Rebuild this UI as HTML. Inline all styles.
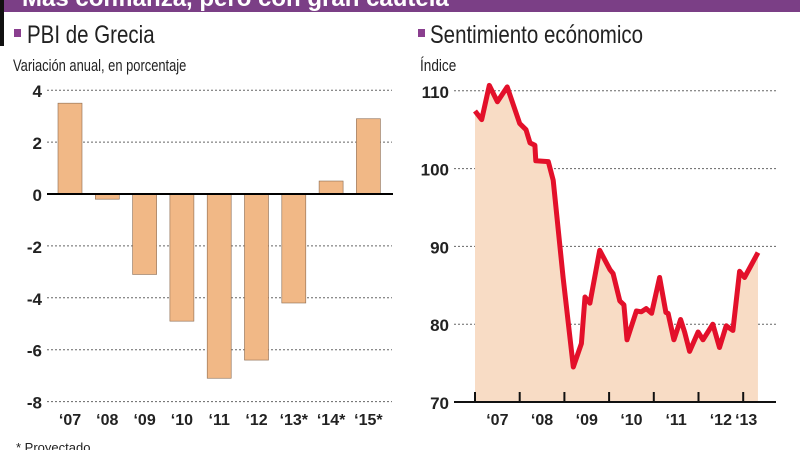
<!DOCTYPE html>
<html><head><meta charset="utf-8"><style>
body{margin:0;width:800px;height:450px;overflow:hidden;background:#fff;font-family:"Liberation Sans",sans-serif}
svg{display:block}
</style></head><body>
<svg width="800" height="450" id="s">
<rect x="0" y="0" width="800" height="12" fill="#7b3f86"/>
<text x="22" y="6" fill="#fff" font-size="24" font-weight="bold">Más confianza, pero con gran cautela</text>
<rect x="0" y="0" width="4" height="46" fill="#111"/>
<rect x="14" y="29" width="7" height="8" fill="#8a3f8f"/>
<text x="0" y="0" font-size="25" fill="#222" transform="translate(27,43) scale(0.82,1)">PBI de Grecia</text>
<text x="0" y="0" font-size="17" fill="#222" transform="translate(13,71) scale(0.76,1)">Variación anual, en porcentaje</text>
<rect x="418" y="29" width="7" height="8" fill="#8a3f8f"/>
<text x="0" y="0" font-size="25" fill="#222" transform="translate(430,43) scale(0.82,1)">Sentimiento ecónomico</text>
<text x="0" y="0" font-size="17" fill="#222" transform="translate(420,71) scale(0.8,1)">Índice</text>
<text x="16" y="452" font-size="13" fill="#222">* Proyectado</text>
<g id="left"></g><g id="right"></g>
</svg>
<script>
const gdpCats=["‘07","‘08","‘09","‘10","‘11","‘12","‘13*","‘14*","‘15*"];
const gdpVals=[3.5,-0.2,-3.1,-4.9,-7.1,-6.4,-4.2,0.5,2.9];
const gdpTicks=[4,2,0,-2,-4,-6,-8];
const sentDates=[2007.0,2007.15,2007.32,2007.5,2007.72,2008.0,2008.14,2008.23,2008.34,2008.36,2008.64,2008.75,2008.97,2009.2,2009.38,2009.46,2009.57,2009.79,2010.02,2010.09,2010.24,2010.33,2010.4,2010.61,2010.72,2010.83,2010.95,2011.13,2011.27,2011.32,2011.45,2011.6,2011.69,2011.8,2011.99,2012.1,2012.32,2012.47,2012.62,2012.77,2012.92,2013.03,2013.33];
const sentVals=[107.4,106.3,110.7,108.6,110.5,105.8,105,103.3,103,101,100.9,98.5,86,74.5,77.5,83.5,82.7,89.5,87,86.5,83,82.5,78,81.7,81.6,82,81.4,86,81.5,81.4,78,80.6,79,76.5,79,78,80,77,79.8,79.2,86.8,86,89.2];
const sentTicks=[110,100,90,80,70];
const sentYears=["‘07","‘08","‘09","‘10","‘11","‘12","‘13"];
const NS="http://www.w3.org/2000/svg";
function mk(p,t,a){const e=document.createElementNS(NS,t);for(const k in a)e.setAttribute(k,a[k]);p.appendChild(e);return e;}
const L=document.getElementById('left');
const ly=v=>194-v*25.95, lx=i=>70+i*37.3;
gdpTicks.forEach(t=>{
 const g=mk(L,'line',{x1:47,x2:392,y1:ly(t),y2:ly(t),stroke:'#666','stroke-dasharray':'2,2','stroke-width':1});
 
 
 const tx=mk(L,'text',{x:42,y:ly(t)+7,'text-anchor':'end','font-size':17,'font-weight':'bold',fill:'#222'});tx.textContent=t;
 
 
});
gdpVals.forEach((v,i)=>{
 const r=mk(L,'rect',{x:lx(i)-12,y:Math.min(ly(v),ly(0)),width:24,height:Math.abs(ly(v)-ly(0)),fill:'#f1b886',stroke:'#8a6a50','stroke-width':0.6});
 
 
 const t=mk(L,'text',{x:lx(i),y:425,'text-anchor':'middle','font-size':16,'font-weight':'bold',fill:'#222'});t.textContent=gdpCats[i];
 
 
});
const z=mk(L,'line',{x1:47,x2:393,y1:ly(0),y2:ly(0),stroke:'#000','stroke-width':2});


const R=document.getElementById('right');
const ry=v=>402-(v-70)*7.78, rx=d=>475+(d-2007)*44.7;
sentTicks.forEach(t=>{
 if(t>70){const g=mk(R,'line',{x1:454,x2:776,y1:ry(t),y2:ry(t),stroke:'#666','stroke-dasharray':'2,2','stroke-width':1});
 
 }
 const tx=mk(R,'text',{x:449,y:ry(t)+7,'text-anchor':'end','font-size':17,'font-weight':'bold',fill:'#222'});tx.textContent=t;
 
 
});
const n=Math.min(sentDates.length,sentVals.length);
let pts=[];for(let i=0;i<n;i++)pts.push(rx(sentDates[i]).toFixed(1)+','+ry(sentVals[i]).toFixed(1));
const area=mk(R,'polygon',{points:rx(sentDates[0])+','+ry(70)+' '+pts.join(' ')+' '+rx(sentDates[n-1])+','+ry(70),fill:'#f8dcc5'});


const ln=mk(R,'polyline',{points:pts.join(' '),fill:'none',stroke:'#e3102a','stroke-width':5,'stroke-linejoin':'round'});


const ax=mk(R,'line',{x1:454,x2:776,y1:ry(70),y2:ry(70),stroke:'#111','stroke-width':2});


sentYears.forEach((y,i)=>{
 const tk=mk(R,'line',{x1:rx(2007+i),x2:rx(2007+i),y1:ry(70)-10,y2:ry(70),stroke:'#111','stroke-width':2});
 
 
 const t=mk(R,'text',{x:i==6?rx(2013)+3:rx(2007.5+i),y:425,'text-anchor':'middle','font-size':16,'font-weight':'bold',fill:'#222'});t.textContent=y;
 
 
});
</script>
</body></html>
